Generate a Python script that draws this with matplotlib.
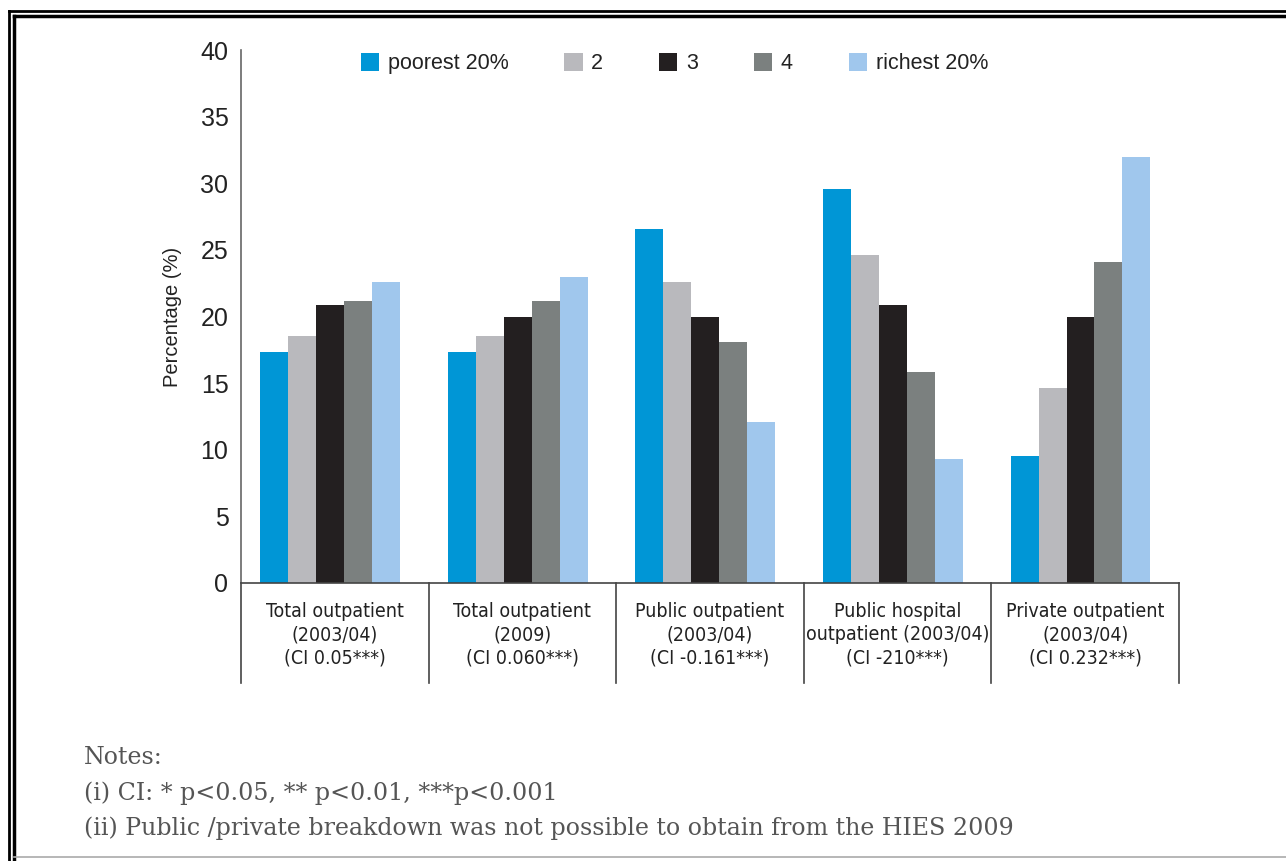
import numpy as np
import matplotlib.pyplot as plt
from matplotlib.lines import Line2D
import matplotlib.transforms as mtransforms

categories = [
    "Total outpatient\n(2003/04)\n(CI 0.05***)",
    "Total outpatient\n(2009)\n(CI 0.060***)",
    "Public outpatient\n(2003/04)\n(CI -0.161***)",
    "Public hospital\noutpatient (2003/04)\n(CI -210***)",
    "Private outpatient\n(2003/04)\n(CI 0.232***)",
]
quintiles = ["poorest 20%", "2", "3", "4", "richest 20%"]
poorest = [17.3, 17.3, 26.6, 29.6, 9.5]
q2 = [18.5, 18.5, 22.6, 24.6, 14.6]
q3 = [20.9, 20.0, 20.0, 20.9, 20.0]
q4 = [21.2, 21.2, 18.1, 15.8, 24.1]
richest = [22.6, 23.0, 12.1, 9.3, 32.0]
yticks = [0, 5, 10, 15, 20, 25, 30, 35, 40]
notes = [
    "Notes:",
    "(i) CI: * p<0.05, ** p<0.01, ***p<0.001",
    "(ii) Public /private breakdown was not possible to obtain from the HIES 2009",
]

colors = ["#0096d6", "#b9b9bd", "#231f20", "#7b807f", "#a0c7ed"]

fig = plt.figure(figsize=(12.86, 8.61), dpi=100)
ax = fig.add_axes([0.1874, 0.3229, 0.7294, 0.619])

series = [poorest, q2, q3, q4, richest]
x = np.arange(len(categories))
w = 0.149
for i, (vals, lab) in enumerate(zip(series, quintiles)):
    ax.bar(x + (i - 2) * w - 0.025, vals, width=w, color=colors[i], label=lab, linewidth=0)

ax.set_xlim(-0.5, 4.5)
ax.set_ylim(0, 40)
ax.set_yticks(yticks)
ax.set_yticklabels([str(t) for t in yticks], fontsize=18, family="Liberation Sans", color="#222222")
ax.tick_params(axis="y", length=0, pad=9)
ax.set_xticks([])
for s in ["top", "right"]:
    ax.spines[s].set_visible(False)
ax.spines["left"].set_color("#666666")
ax.spines["bottom"].set_color("#444444")
ax.spines["left"].set_linewidth(1.2)
ax.spines["bottom"].set_linewidth(1.2)
ax.set_ylabel("Percentage (%)", fontsize=14.5, family="Liberation Sans", color="#222222", labelpad=13)

trans = mtransforms.blended_transform_factory(ax.transData, ax.transAxes)
for sx in np.arange(-0.5, 5.0, 1.0):
    ax.plot([sx, sx], [0, -0.188], transform=trans, color="#444444", lw=1.2, clip_on=False)
for xi, lab in zip(x, categories):
    ax.text(xi, -0.097, lab, transform=trans, ha="center", va="center",
            fontsize=14, family="DejaVu Sans", fontstretch="condensed",
            color="#222222", linespacing=1.3)

ax.legend(loc="upper center", bbox_to_anchor=(0.462, 1.03), ncol=5, frameon=False,
          prop={"family": "Liberation Sans", "size": 15.5}, handlelength=0.85, handleheight=0.85,
          handletextpad=0.4, columnspacing=2.6, labelcolor="#222222")

ny = [757, 793, 828]
for txt, yy in zip(notes, ny):
    fig.text(84 / 1286, 1 - yy / 861, txt, fontsize=17.1, family="DejaVu Serif",
             color="#555555", va="center", ha="left")

# page border
def fline(x0, y0, x1, y1, lw, c):
    fig.add_artist(Line2D([x0 / 1286, x1 / 1286], [1 - y0 / 861, 1 - y1 / 861],
                          lw=lw, color=c, transform=fig.transFigure))

fline(9, 11, 1286, 11, 2.0, "black")
fline(9, 11, 9, 861, 2.0, "black")
fline(14, 16, 1286, 16, 2.5, "black")
fline(14, 16, 14, 861, 2.5, "black")
fline(14, 857, 1286, 857, 1.2, "#aaaaaa")

fig.savefig("out.png", dpi=100)
